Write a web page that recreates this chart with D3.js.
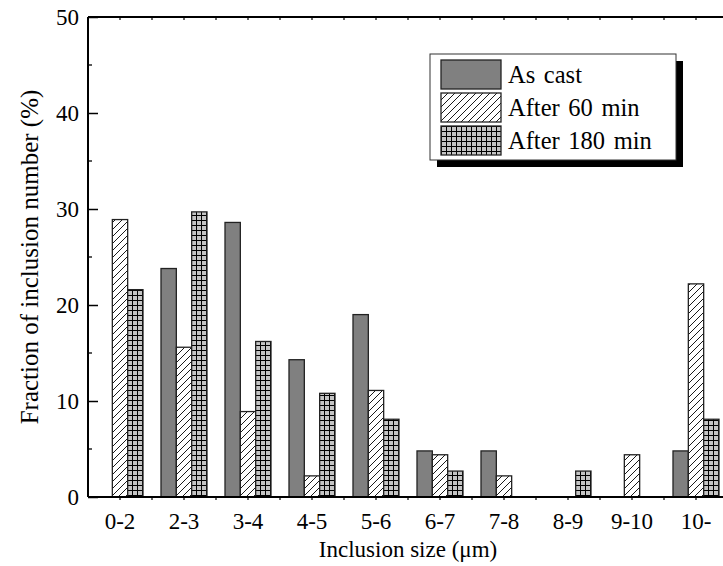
<!DOCTYPE html>
<html lang="en">
<head>
<meta charset="utf-8">
<title>Inclusion size distribution</title>
<script src="https://cdn.jsdelivr.net/npm/d3@7"></script>
<style>
  body { margin: 0; background: #fff; }
  text { font-family: "Liberation Serif", "Times New Roman", serif; fill: #000; }
</style>
</head>
<body>
<script>
// data
var categories = ["0-2", "2-3", "3-4", "4-5", "5-6", "6-7", "7-8", "8-9", "9-10", "10-"];
var seriesNames = ["As cast", "After 60 min", "After 180 min"];
var asCast   = [0, 23.8, 28.6, 14.3, 19.0, 4.8, 4.8, 0, 0, 4.8];
var after60  = [28.9, 15.6, 8.9, 2.2, 11.1, 4.4, 2.2, 0, 4.4, 22.2];
var after180 = [21.6, 29.7, 16.2, 10.8, 8.1, 2.7, 0, 2.7, 0, 8.1];
var yTicks = [0, 10, 20, 30, 40, 50];

var W = 723, H = 566;
var plotLeft = 88, plotTop = 17, plotBottom = 497;
var bandW = 64;

var svg = d3.select("body").append("svg")
    .attr("width", W).attr("height", H);

// patterns
var defs = svg.append("defs");
var hatch = defs.append("pattern").attr("id", "hatch")
    .attr("patternUnits", "userSpaceOnUse").attr("width", 7).attr("height", 7);
hatch.append("rect").attr("width", 7).attr("height", 7).attr("fill", "#fff");
hatch.append("path").attr("d", "M-1,1 l2,-2 M0,7 l7,-7 M6,8 l2,-2")
    .attr("stroke", "#000").attr("stroke-width", 0.9);

var grid = defs.append("pattern").attr("id", "grid")
    .attr("patternUnits", "userSpaceOnUse").attr("width", 5).attr("height", 5);
grid.append("rect").attr("width", 5).attr("height", 5).attr("fill", "#c4c4c4");
grid.append("path").attr("d", "M0,0.5 H5 M0.5,0 V5")
    .attr("stroke", "#000").attr("stroke-width", 1);

var fills = ["#808080", "url(#hatch)", "url(#grid)"];
var seriesData = [asCast, after60, after180];

var x = d3.scaleBand()
    .domain(categories)
    .range([plotLeft, plotLeft + bandW * categories.length])
    .paddingInner(0).paddingOuter(0);

var xInner = d3.scaleBand()
    .domain(d3.range(seriesNames.length))
    .range([0, 46])
    .padding(0);

var y = d3.scaleLinear().domain([0, 50]).range([plotBottom, plotTop]);

// bars
var groups = svg.append("g").selectAll("g")
    .data(categories)
    .enter().append("g")
    .attr("transform", function(d) { return "translate(" + (x(d) + (bandW - 46) / 2) + ",0)"; });

groups.selectAll("rect")
    .data(function(d, i) {
        return seriesData.map(function(s, k) { return { k: k, v: s[i] }; });
    })
    .enter().append("rect")
    .filter(function(d) { return d.v > 0; })
    .attr("x", function(d) { return xInner(d.k); })
    .attr("y", function(d) { return y(d.v); })
    .attr("width", xInner.bandwidth())
    .attr("height", function(d) { return plotBottom - y(d.v); })
    .attr("fill", function(d) { return fills[d.k]; })
    .attr("stroke", "#222")
    .attr("stroke-width", 1.3);

// axes
var xRight = plotLeft + bandW * categories.length;
var halfTicks = d3.range(plotLeft + bandW / 2, xRight, bandW / 2);

svg.append("line").attr("x1", plotLeft).attr("x2", xRight).attr("y1", plotBottom).attr("y2", plotBottom)
    .attr("stroke", "#000").attr("stroke-width", 2);
svg.append("line").attr("x1", plotLeft).attr("x2", xRight).attr("y1", plotTop).attr("y2", plotTop)
    .attr("stroke", "#000").attr("stroke-width", 2);
svg.append("line").attr("x1", plotLeft).attr("x2", plotLeft).attr("y1", plotTop).attr("y2", plotBottom)
    .attr("stroke", "#000").attr("stroke-width", 2);

svg.append("g").selectAll("line").data(halfTicks).enter().append("line")
    .attr("x1", function(d) { return d; }).attr("x2", function(d) { return d; })
    .attr("y1", plotBottom).attr("y2", plotBottom + 3)
    .attr("stroke", "#000").attr("stroke-width", 1.2);
svg.append("g").selectAll("line").data(halfTicks).enter().append("line")
    .attr("x1", function(d) { return d; }).attr("x2", function(d) { return d; })
    .attr("y1", plotTop).attr("y2", plotTop + 3)
    .attr("stroke", "#000").attr("stroke-width", 1.2);

var yAxis = d3.axisLeft(y).tickValues(yTicks).tickSizeInner(-10).tickSizeOuter(0).tickPadding(9);
var gy = svg.append("g").attr("transform", "translate(" + plotLeft + ",0)").call(yAxis);
gy.select(".domain").remove();
gy.selectAll(".tick line").attr("stroke-width", 1.5);
gy.selectAll(".tick text").attr("font-size", 23)
    .style("font-family", "'Liberation Serif', serif");

svg.append("g").selectAll("line").data(d3.range(5, 50, 10)).enter().append("line")
    .attr("x1", plotLeft).attr("x2", plotLeft + 4)
    .attr("y1", function(d) { return y(d); }).attr("y2", function(d) { return y(d); })
    .attr("stroke", "#000").attr("stroke-width", 1.3);

svg.append("g").selectAll("text").data(categories).enter().append("text")
    .attr("x", function(d) { return x(d) + bandW / 2; })
    .attr("y", 529)
    .attr("text-anchor", "middle")
    .attr("font-size", 23)
    .text(function(d) { return d; });

// axis titles
svg.append("text")
    .attr("x", 408).attr("y", 557)
    .attr("text-anchor", "middle").attr("font-size", 23)
    .text("Inclusion size (\u03bcm)");

svg.append("text")
    .attr("transform", "translate(38,257) rotate(-90)")
    .attr("text-anchor", "middle").attr("font-size", 25)
    .text("Fraction of inclusion number (%)");

// legend
var lg = svg.append("g");
lg.append("rect").attr("x", 437).attr("y", 61).attr("width", 246).attr("height", 106).attr("fill", "#000");
lg.append("rect").attr("x", 430).attr("y", 54).attr("width", 246).attr("height", 106)
    .attr("fill", "#fff").attr("stroke", "#333").attr("stroke-width", 1);

var rows = lg.selectAll("g.row").data(seriesNames).enter().append("g")
    .attr("class", "row")
    .attr("transform", function(d, i) { return "translate(441," + (60 + i * 33) + ")"; });
rows.append("rect").attr("width", 60).attr("height", 29)
    .attr("fill", function(d, i) { return fills[i]; })
    .attr("stroke", "#222").attr("stroke-width", 1.3);
rows.append("text").attr("x", 67).attr("y", 23).attr("font-size", 24.5)
    .attr("word-spacing", 2.5)
    .text(function(d) { return d; });
</script>
</body>
</html>
